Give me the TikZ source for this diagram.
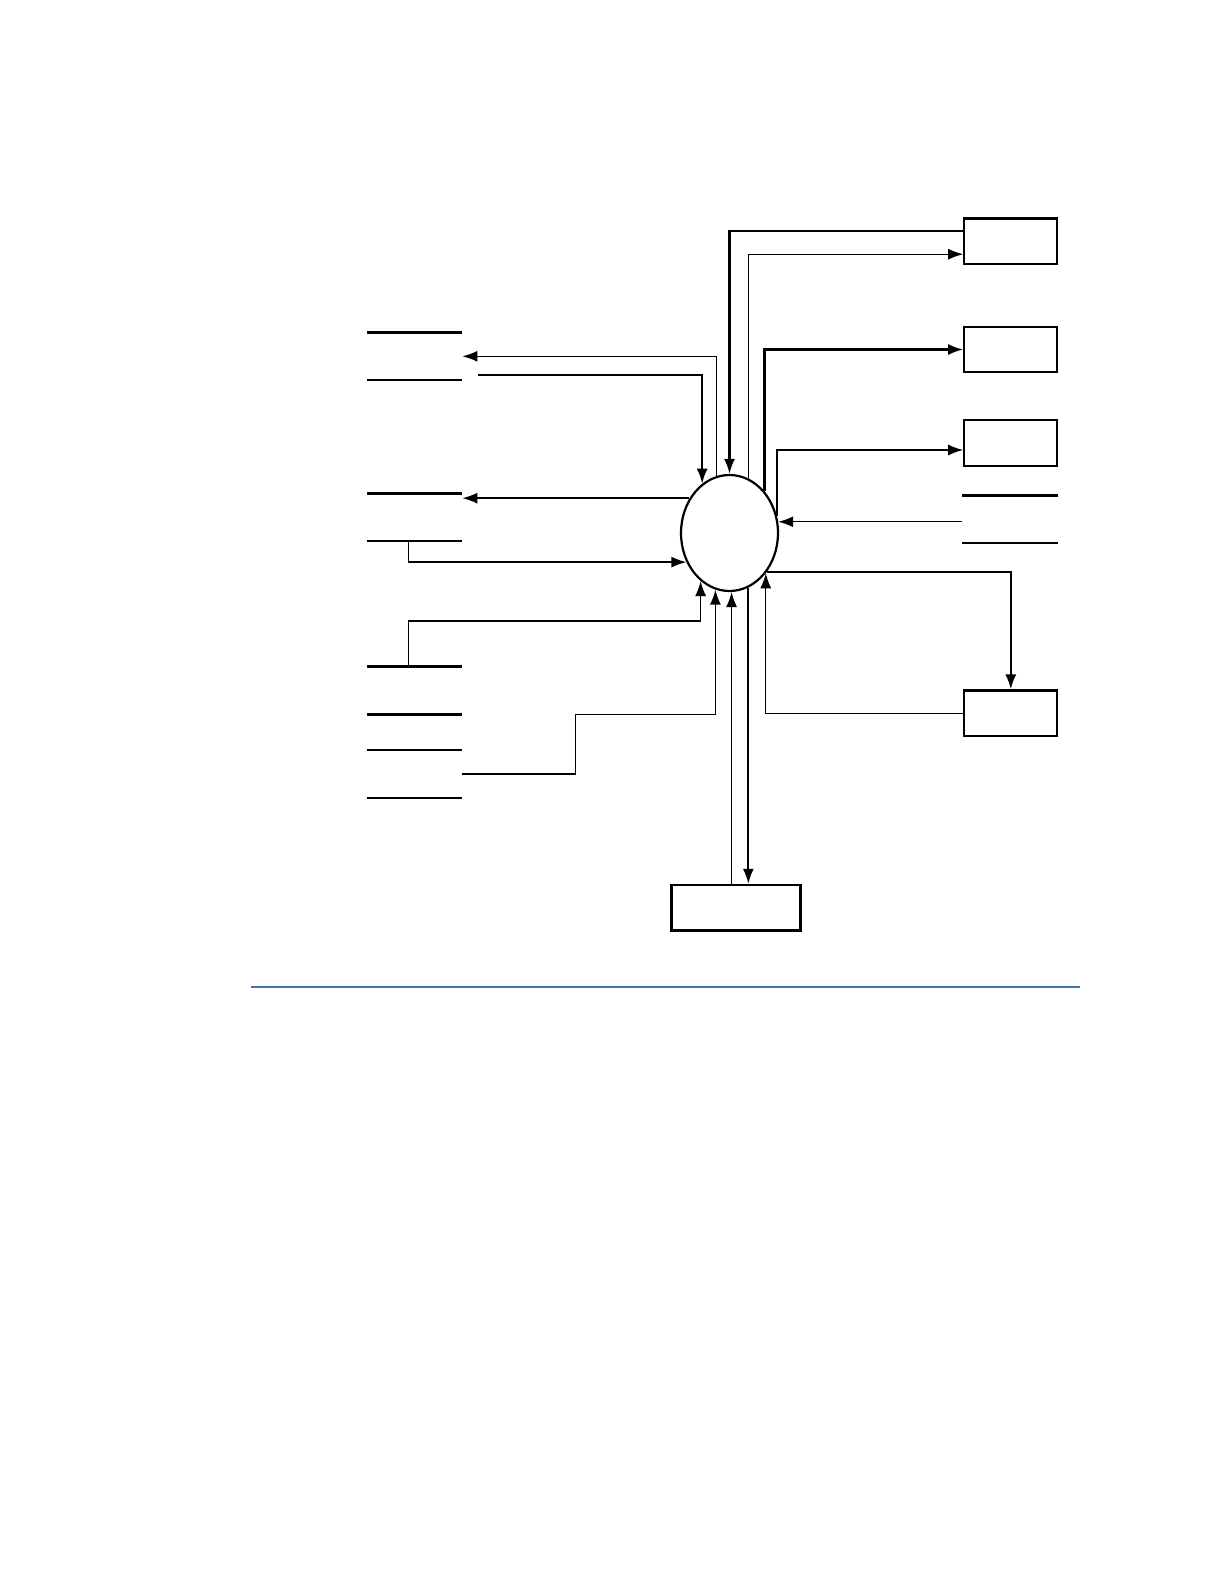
\documentclass[tikz,border=0pt]{standalone}
\usetikzlibrary{shapes.geometric,arrows.meta}
\definecolor{rulecol}{RGB}{67,114,170}
\begin{document}
\begin{tikzpicture}[x=0.5bp,y=-0.5bp,
  proc/.style={ellipse,draw,line width=1.1bp,minimum width=48.5bp,minimum height=58bp,inner sep=0pt},
  ext/.style={rectangle,draw,line width=1.1bp,minimum width=46.5bp,minimum height=22.8bp,inner sep=0pt},
  store/.style={rectangle,minimum width=47.5bp,minimum height=23.5bp,inner sep=0pt},
  storeline/.style={line width=1.25bp},
  flow/.style={-{Latex[length=7.5bp,width=5.5bp]},line width=0.7bp},
  heavy/.style={line width=1.1bp}]
 \useasboundingbox (0,0) rectangle (1224,1584);

 \node[proc] (p) at (729.5,533) {};
 \node[ext] (e1) at (1010.8,241.2) {};
 \node[ext] (e2) at (1010.8,349.5) {};
 \node[ext] (e3) at (1010.8,443) {};
 \node[ext] (e4) at (1010.8,713.3) {};
 \node[ext,minimum width=64.5bp] (e5) at (736,907.7) {};

 \node[store] (s1) at (414.5,356.3) {};
 \node[store] (s2) at (414.5,517.2) {};
 \node[store] (s3) at (414.5,690.4) {};
 \node[store] (s4) at (414.5,773.9) {};
 \node[store] (r1) at (1010,519.2) {};
 \foreach \s in {s1,s2,s3,s4,r1}
   \draw[storeline] (\s.north west) -- (\s.north east) (\s.south west) -- (\s.south east);

 \draw[flow,heavy] ([yshift=5bp]e1.west) -| (p.north);
 \draw[flow] (p.71) |- ([yshift=-6.5bp]e1.west);
 \draw[flow,heavy] (p.50) |- (e2.west);
 \draw[flow] (p.20.7) |- ([yshift=-3.5bp]e3.west);
 \draw[flow] (r1.west |- p.13.1) -- (p.13.1);
 \draw[flow,heavy] (p.314.5) -| (e4.north);
 \draw[flow] (e4.west) -| (p.312.5);
 \draw[flow] (e5.north -| p.272.9) -- (p.272.9);
 \draw[flow,heavy] (p.289) -- (e5.north -| p.289);

 \draw[flow] (p.103.7) |- (s1.east);
 \draw[flow,heavy] ([xshift=7.6bp,yshift=-9.5bp]s1.east) -| (p.119.7);
 \draw[flow] (p.139.1) -- (s2.east |- p.139.1);
 \draw[flow] ([xshift=-3.1bp]s2.south) |- (p.214.3);
 \draw[flow] ([xshift=-3bp]s3.north) -- ++(0,-45.7) -| (p.239);
 \draw[flow] (s4.east) -- ++(113.3,0) -- ++(0,-59.4) -| (p.256.3);

 \draw[rulecol,line width=1bp] (251,986.7) -- (1080,986.7);
\end{tikzpicture}
\end{document}
